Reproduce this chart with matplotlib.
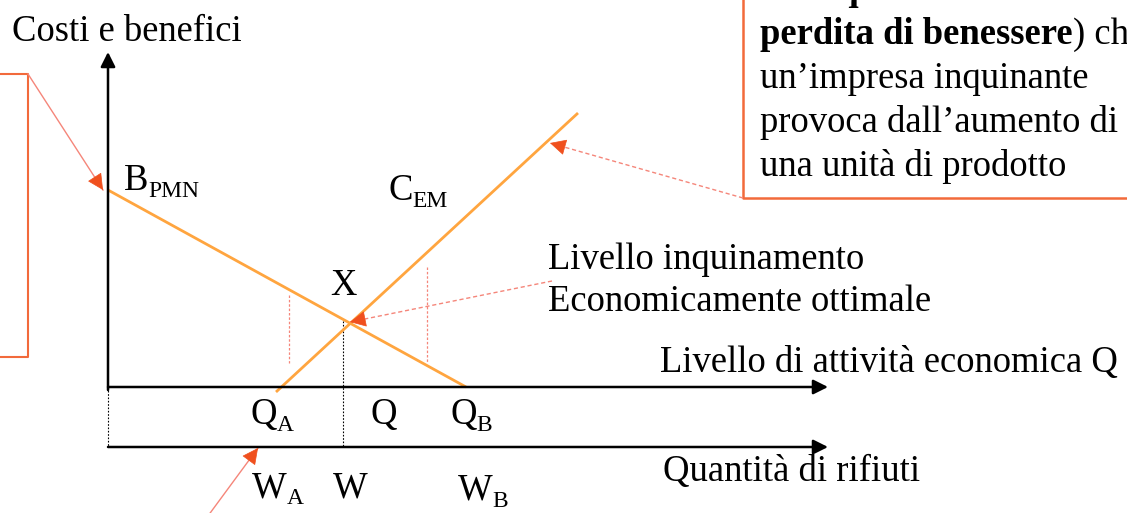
import matplotlib.pyplot as plt

# coordinate nel riquadro dell'immagine (pixel, y verso il basso)
W_IMG, H_IMG = 1127, 513

# assi
asse_y = [(108, 390), (108, 52)]
asse_q = [(108, 387), (828, 387)]
asse_w = [(108, 447), (828, 447)]

# curve
b_pmn_x = [108, 466]
b_pmn_y = [190, 387]
c_em_x = [276, 578]
c_em_y = [392, 113]

# punto ottimo e linee tratteggiate
x_ott = 343
y_ott = 321
tratt_rosse_x = [289, 427]
tratt_rosse_top = [295, 267]
tratt_rosse_bot = [363, 363]

# etichette (testo, x, linea di base)
etichette = [
    ("Costi e benefici", 12, 41),
    ("X", 330, 295),
    ("Livello inquinamento", 548, 269),
    ("Economicamente ottimale", 548, 311),
    ("Livello di attività economica Q", 660, 372),
    ("Quantità di rifiuti", 663, 481),
    ("Q", 370, 424),
    ("W", 333, 497),
]
pedici = [
    ("B", "PMN", 124, 190),
    ("C", "EM", 388, 200),
    ("Q", "A", 250, 424),
    ("Q", "B", 450, 424),
    ("W", "A", 252, 497),
    ("W", "B", 458, 500),
]

arancio = "#FFA53F"
rosso = "#F26A3B"
rosso_chiaro = "#F5867A"
testa = "#F0501E"

fig = plt.figure(figsize=(W_IMG / 100, H_IMG / 100), dpi=100)
ax = fig.add_axes([0, 0, 1, 1])
ax.set_xlim(0, W_IMG)
ax.set_ylim(H_IMG, 0)
ax.axis("off")

font = "Liberation Serif"
fs = 26.4

# assi con freccia
for (x0, y0), (x1, y1) in [asse_y, asse_q, asse_w]:
    ax.annotate("", xy=(x1, y1), xytext=(x0, y0),
                arrowprops=dict(arrowstyle="-|>", color="black", lw=1.8,
                                mutation_scale=22, shrinkA=0, shrinkB=0))

# linee punteggiate nere
ax.plot([108, 108], [387, 447], color="black", lw=0.8, ls=(0, (1.5, 1.5)))
ax.plot([x_ott, x_ott], [y_ott, 447], color="black", lw=0.8, ls=(0, (1.5, 1.5)))

# linee punteggiate rosse
for x, t, b in zip(tratt_rosse_x, tratt_rosse_top, tratt_rosse_bot):
    ax.plot([x, x], [t, b], color=rosso_chiaro, lw=0.9, ls=(0, (2, 1.5)))

# curve
ax.plot(b_pmn_x, b_pmn_y, color=arancio, lw=2.0, solid_capstyle="butt")
ax.plot(c_em_x, c_em_y, color=arancio, lw=2.0, solid_capstyle="butt")


def freccia(coda, punta, tratteggio=True):
    ls = (0, (3, 2)) if tratteggio else "-"
    ax.plot([coda[0], punta[0]], [coda[1], punta[1]], color=rosso_chiaro,
            lw=1.0, ls=ls)
    dx, dy = punta[0] - coda[0], punta[1] - coda[1]
    n = (dx * dx + dy * dy) ** 0.5
    inizio = (punta[0] - dx / n * 14, punta[1] - dy / n * 14)
    ax.annotate("", xy=punta, xytext=inizio,
                arrowprops=dict(arrowstyle="-|>", color=testa, lw=0.5,
                                mutation_scale=26, shrinkA=0, shrinkB=0))


# riquadro a sinistra
ax.plot([-5, 28, 28, -5], [74, 74, 357, 357], color=rosso, lw=1.5)
freccia((28, 74), (103, 190), tratteggio=False)

# riquadro a destra
ax.plot([743, 743, 1135], [-5, 198, 198], color=rosso, lw=1.8)
freccia((743, 198), (550, 143))

# freccia verso l'ottimo
freccia((552, 281), (350, 322))

# freccia in basso
freccia((205, 520), (258, 448), tratteggio=False)

# testi
for testo, x, y in etichette:
    ax.text(x, y, testo, fontsize=fs, family=font, ha="left", va="baseline")

for base, ped, x, y in pedici:
    t = ax.text(x, y, base, fontsize=fs, family=font, ha="left", va="baseline")
    ax.annotate(ped, xy=(1, 0), xycoords=t, xytext=(0, 0.5),
                textcoords="offset points", fontsize=fs * 0.64, family=font,
                ha="left", va="baseline")

# testo del riquadro a destra
ax.text(760, 0, "da inquinamento", fontsize=fs, family=font,
        fontweight="bold", va="baseline")
tb = ax.text(760, 44, "perdita di benessere", fontsize=fs, family=font,
             fontweight="bold", va="baseline")
ax.annotate(") che", xy=(1, 0), xycoords=tb, fontsize=fs, family=font,
            ha="left", va="bottom")
righe = ["un\u2019impresa inquinante", "provoca dall\u2019aumento di",
         "una unità di prodotto"]
for i, r in enumerate(righe):
    ax.text(760, 88 + i * 44, r, fontsize=fs, family=font, va="baseline")

fig.savefig("out.png", dpi=100)
